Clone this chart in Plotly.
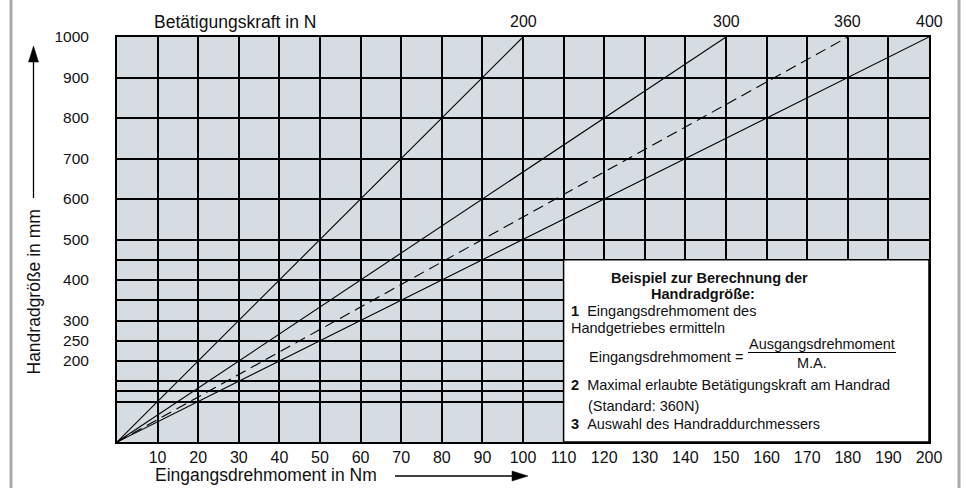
import plotly.graph_objects as go

# ---------------- data ----------------
forces = [200, 300, 360, 400]                 # Betätigungskraft in N
torque_at_1000 = [100, 150, 180, 200]         # Eingangsdrehmoment (Nm) at 1000 mm wheel
line_dash = ["solid", "solid", "11px,6px", "solid"]
x_ticks = list(range(10, 201, 10))
y_grid = [100, 125, 150, 200, 250, 300, 350, 400, 450, 500, 600, 700, 800, 900, 1000]
y_labels = ["", "", "", "200", "250", "300", "", "400", "", "500", "600", "700", "800", "900", "1000"]

W, H = 965, 488
ML, MR, MT, MB = 117, 36, 37, 46
PW, PH = W - ML - MR, H - MT - MB
FONT = "Liberation Sans, Arial, sans-serif"


def px(xp):
    return (xp - ML) / PW


def py(yp):
    return (H - MB - yp) / PH


fig = go.Figure()
for f, t, d in zip(forces, torque_at_1000, line_dash):
    fig.add_trace(go.Scatter(x=[0, t], y=[0, 1000], mode="lines",
                             line=dict(color="black", width=1.1, dash=d),
                             name=f"{f} N", hoverinfo="skip", showlegend=False))

fig.update_xaxes(range=[0, 200], tickvals=x_ticks, ticktext=[str(v) for v in x_ticks],
                 showgrid=True, gridcolor="#000", gridwidth=1.5, zeroline=False,
                 showline=True, linecolor="black", linewidth=2, mirror=True,
                 ticks="", tickfont=dict(family=FONT, size=16, color="#111"),
                 ticklabelstandoff=0, fixedrange=True)
fig.update_yaxes(range=[0, 1000], tickvals=y_grid, ticktext=y_labels,
                 showgrid=True, gridcolor="#000", gridwidth=1.5, zeroline=False,
                 showline=True, linecolor="black", linewidth=2, mirror=True,
                 ticks="", tickfont=dict(family=FONT, size=15.5, color="#111"),
                 ticklabelstandoff=23, fixedrange=True)

shapes = []
# info box
shapes.append(dict(type="rect", xref="x", yref="y", x0=110, x1=200, y0=0, y1=450,
                   fillcolor="white", line=dict(color="black", width=1.5), layer="above"))
# fraction bar
shapes.append(dict(type="line", xref="paper", yref="paper", x0=px(748), x1=px(896),
                   y0=py(352.5), y1=py(352.5), line=dict(color="black", width=1.2)))
# y-axis title arrow
shapes.append(dict(type="line", xref="paper", yref="paper", x0=px(33.5), x1=px(33.5),
                   y0=py(198), y1=py(60), line=dict(color="black", width=1.3)))
shapes.append(dict(type="path", xref="paper", yref="paper",
                   path=f"M {px(33.5)} {py(46)} L {px(28.5)} {py(62)} L {px(38.5)} {py(62)} Z",
                   fillcolor="black", line=dict(color="black", width=0.5)))
# x-axis title arrow
shapes.append(dict(type="line", xref="paper", yref="paper", x0=px(395), x1=px(514),
                   y0=py(476), y1=py(476), line=dict(color="black", width=1.3)))
shapes.append(dict(type="path", xref="paper", yref="paper",
                   path=f"M {px(528)} {py(476)} L {px(512)} {py(471)} L {px(512)} {py(481)} Z",
                   fillcolor="black", line=dict(color="black", width=0.5)))
# outer gray frame lines
for xx in (11, 959):
    shapes.append(dict(type="line", xref="paper", yref="paper", x0=px(xx), x1=px(xx),
                       y0=py(H + 5), y1=py(-5), line=dict(color="#a8acb0", width=3)))

ann = []


def text(s, x, y, size=14.5, xanchor="left", align="left"):
    ann.append(dict(text=s, x=px(x), y=py(y), xref="paper", yref="paper",
                    xanchor=xanchor, yanchor="middle", align=align, showarrow=False,
                    font=dict(family=FONT, size=size, color="#111")))


# top force labels
for f, t in zip(forces, torque_at_1000):
    ann.append(dict(text=str(f), x=t, y=py(21), xref="x", yref="paper", xanchor="center",
                    yanchor="middle", showarrow=False,
                    font=dict(family=FONT, size=16, color="#111")))
text("Betätigungskraft in N", 235, 22, size=17.5, xanchor="center")
text("Eingangsdrehmoment in Nm", 153, 475, size=17.5)
ann.append(dict(text="Handradgröße in mm", x=px(33.5), y=py(292), xref="paper", yref="paper",
                textangle=-90, showarrow=False, xanchor="center", yanchor="middle",
                font=dict(family=FONT, size=17.5, color="#111")))

# box content
text("<b>Beispiel zur Berechnung der</b>", 709, 278, xanchor="center")
text("<b>Handradgröße:</b>", 703, 294, xanchor="center")
text("<b>1</b>\u00a0\u00a0Eingangsdrehmoment des", 569, 311)
text("Handgetriebes ermitteln", 569, 328)
text("Eingangsdrehmoment =", 745, 357, xanchor="right")
text("Ausgangsdrehmoment", 822, 344, xanchor="center")
text("M.A.", 812, 363, xanchor="center")
text("<b>2</b>\u00a0\u00a0Maximal erlaubte Betätigungskraft am Handrad", 569, 385)
text("(Standard: 360N)", 586, 406)
text("<b>3</b>\u00a0\u00a0Auswahl des Handraddurchmessers", 569, 424)

fig.update_layout(width=W, height=H, margin=dict(l=ML, r=MR, t=MT, b=MB),
                  plot_bgcolor="#d5dde3", paper_bgcolor="white",
                  shapes=shapes, annotations=ann, showlegend=False,
                  font=dict(family=FONT, color="#111"))

fig.write_html("out.html", config={"displayModeBar": False},
               post_script="document.body.style.margin='0';document.body.style.overflow='hidden';")
